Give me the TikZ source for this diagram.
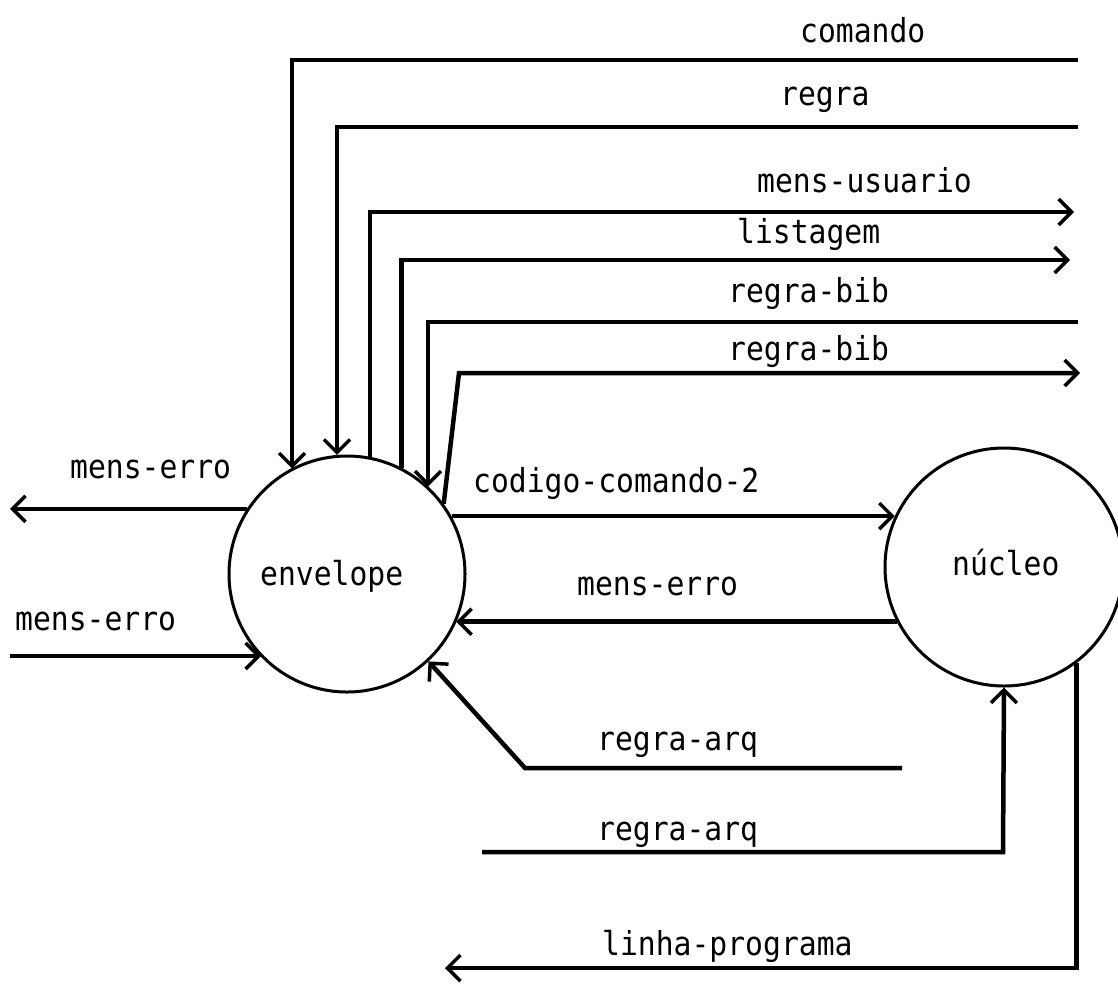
\documentclass[tikz,border=0pt]{standalone}
\usepackage{fontspec}
\newfontfamily\flowfont{DejaVu Sans Mono}[FakeStretch=0.9]
\usetikzlibrary{arrows.meta}
\begin{document}
\begin{tikzpicture}[x=1pt,y=-1pt,
  flow/.style={line width=4.5pt, line join=miter},
  proc/.style={circle, draw, line width=3pt, inner sep=0pt},
  lbl/.style={anchor=base west, inner sep=0pt, font=\flowfont\fontsize{33}{38}\selectfont},
  tip/.style={-{Straight Barb[length=13pt,width=26pt,line width=3.5pt]}}
]
\useasboundingbox (0,0) rectangle (1118,994);

% processes
\node[proc, minimum size=236pt] (env) at (347,574) {};
\node[proc, minimum size=238pt] (nuc) at (1004,567) {};
\node[lbl] (envT) at (260,585) {envelope};
\node[lbl] (nucT) at (952,575) {núcleo};

% free ends of the flows
\coordinate (cmdEnd) at (1078,60);
\coordinate (cmdBend) at (292,60);
\coordinate (rgEnd) at (1078,127);
\coordinate (rgBend) at (337,127);
\coordinate (musEnd) at (1074,212);
\coordinate (lstEnd) at (1070,260);
\coordinate (rb1End) at (1078,322);
\coordinate (rb1Bend) at (428,322);
\coordinate (rb2Bend) at (459,373);
\coordinate (rb2End) at (1080,373);
\coordinate (meTopEnd) at (10,510);
\coordinate (meBotStart) at (10,656);
\coordinate (raUpStart) at (902,768);
\coordinate (raUpBend) at (525,768);
\coordinate (raLoStart) at (482,852);
\coordinate (raLoBend) at (1003,852);
\coordinate (lpBend) at (1076,968);
\coordinate (lpEnd) at (445,968);

% flows above the envelope
\draw[flow,tip] (cmdEnd) -- (cmdBend) -- (cmdBend |- env.118);
\draw[flow,tip] (rgEnd) -- (rgBend) -- (rgBend |- env.95);
\draw[flow,tip] (env.79) -- (env.79 |- musEnd) -- (musEnd);
\draw[flow,tip] (env.63) -- (env.63 |- lstEnd) -- (lstEnd);
\draw[flow,tip] (rb1End) -- (rb1Bend) -- (rb1Bend |- env.47);
\draw[flow,tip] (env.36) -- (rb2Bend) -- (rb2End);

% flows on the left
\draw[flow,tip] (env.147) -- (meTopEnd |- env.147);
\draw[flow,tip] (meBotStart) -- (meBotStart -| env.224);

% flows between the processes
\draw[flow,tip] (env.29) -- (env.29 -| nuc.155);
\draw[flow,tip] (nuc.207) -- (nuc.207 -| env.-24);

% flows below
\draw[flow,tip] (raUpStart) -- (raUpBend) -- (env.-47);
\draw[flow,tip] (raLoStart) -- (raLoBend) -- (nuc.south);
\draw[flow,tip] (nuc.-53) -- (nuc.-53 |- lpBend) -- (lpEnd);

% flow labels
\node[lbl] (lCmd) at (800,42) {comando};
\node[lbl] (lRg) at (780,105) {regra};
\node[lbl] (lMus) at (757,192) {mens-usuario};
\node[lbl] (lLst) at (737,243) {listagem};
\node[lbl] (lRb1) at (728,302) {regra-bib};
\node[lbl] (lRb2) at (728,360) {regra-bib};
\node[lbl] (lCc) at (473,492) {codigo-comando-2};
\node[lbl] (lMeMid) at (577,595) {mens-erro};
\node[lbl] (lMeTop) at (70,478) {mens-erro};
\node[lbl] (lMeBot) at (15,630) {mens-erro};
\node[lbl] (lRaUp) at (597,750) {regra-arq};
\node[lbl] (lRaLo) at (597,840) {regra-arq};
\node[lbl] (lLp) at (602,955) {linha-programa};
\end{tikzpicture}
\end{document}
